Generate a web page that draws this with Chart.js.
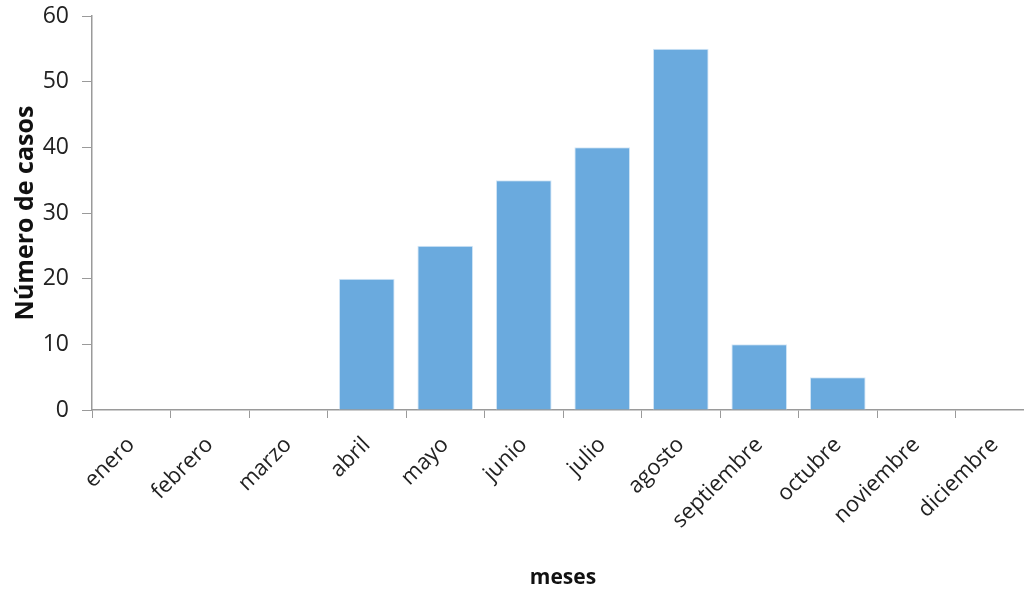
<!doctype html>
<html lang="es">
  <head>
    <meta charset="UTF-8" />
    <title>Número de casos por mes</title>
    <script src="https://cdn.jsdelivr.net/npm/chart.js"></script>
    <style>
      html, body {
        margin: 0;
        padding: 0;
        background: #fff;
        overflow: hidden;
      }
      .chart-wrap {
        position: relative;
        width: 1034px;
        height: 591px;
      }
    </style>
  </head>
  <body>
    <div class="chart-wrap">
      <canvas id="casosChart"></canvas>
    </div>

    <script>
      const meses = ['enero', 'febrero', 'marzo', 'abril', 'mayo', 'junio', 'julio', 'agosto', 'septiembre', 'octubre', 'noviembre', 'diciembre'];
      const casos = [0, 0, 0, 20, 25, 35, 40, 55, 10, 5, 0, 0];
      const yTicks = [0, 10, 20, 30, 40, 50, 60];

      const fontFamily = '"Open Sans", "Noto Sans", sans-serif';
      const axisGrey = '#9a9a9a';

      new Chart(document.getElementById('casosChart').getContext('2d'), {
        type: 'bar',
        data: {
          labels: meses,
          datasets: [{
            data: casos,
            backgroundColor: '#6aaade',
            borderColor: '#d6e8f7',
            borderWidth: 1,
            categoryPercentage: 1,
            barPercentage: 0.71,
          }],
        },
        options: {
          responsive: true,
          maintainAspectRatio: false,
          animation: false,
          layout: { padding: { top: 16, right: 0, left: 11, bottom: 0 } },
          plugins: {
            legend: { display: false },
            tooltip: { enabled: false },
          },
          scales: {
            x: {
              offset: true,
              afterFit: (axis) => { axis.height = 181; },
              grid: {
                offset: true,
                drawOnChartArea: false,
                drawTicks: true,
                tickLength: 8,
                color: axisGrey,
              },
              border: { color: axisGrey, width: 1.5 },
              ticks: {
                color: '#222',
                minRotation: 45,
                maxRotation: 45,
                padding: 14,
                font: { family: fontFamily, size: 22 },
              },
              title: {
                display: true,
                text: 'meses',
                color: '#111',
                padding: { top: 0, bottom: 0 },
                font: { family: fontFamily, size: 21, weight: 'bold' },
              },
            },
            y: {
              min: 0,
              max: 60,
              afterBuildTicks: (axis) => {
                axis.ticks = yTicks.map((v) => ({ value: v }));
              },
              afterFit: (axis) => {
                axis.width = 81;
                // let the top label overhang into the layout padding
                axis.paddingTop = 0;
                axis.paddingBottom = 0;
              },
              grid: {
                drawOnChartArea: false,
                drawTicks: true,
                tickLength: 10,
                color: axisGrey,
              },
              border: { color: axisGrey, width: 1.5 },
              ticks: {
                color: '#222',
                padding: 13,
                font: { family: fontFamily, size: 23 },
              },
              title: {
                display: true,
                text: 'Número de casos',
                color: '#111',
                padding: { top: 0, bottom: 0 },
                font: { family: fontFamily, size: 25, weight: 'bold' },
              },
            },
          },
        },
      });
    </script>
  </body>
</html>
